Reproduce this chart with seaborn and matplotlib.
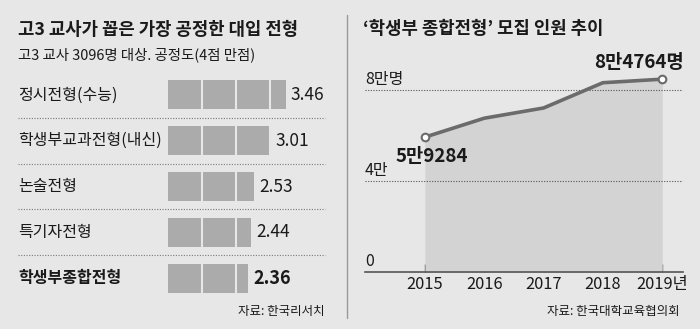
import numpy as np
import pandas as pd
import matplotlib
matplotlib.use("Agg")
import matplotlib.pyplot as plt
import matplotlib.transforms as mtransforms
from matplotlib.lines import Line2D
import seaborn as sns

# ---------------- data ----------------
left_title = "고3 교사가 꼽은 가장 공정한 대입 전형"
left_subtitle = "고3 교사 3096명 대상. 공정도(4점 만점)"
categories = ["정시전형(수능)", "학생부교과전형(내신)", "논술전형", "특기자전형", "학생부종합전형"]
scores = [3.46, 3.01, 2.53, 2.44, 2.36]
left_source = "자료: 한국리서치"

right_title = "‘학생부 종합전형’ 모집 인원 추이"
years = [2015, 2016, 2017, 2018, 2019]
year_labels = ["2015", "2016", "2017", "2018", "2019년"]
recruits = [59284, 67600, 72100, 83200, 84764]
ytick_values = [0, 40000, 80000]
ytick_labels = ["0", "4만", "8만명"]
end_labels = ["5만9284", "8만4764명"]
right_source = "자료: 한국대학교육협의회"

# ---------------- style ----------------
sns.set_theme(style="white")
FAM = ["Noto Sans CJK KR", "DejaVu Sans"]
plt.rcParams["font.family"] = FAM
BG = "#e7e7e7"
BAR = "#ababab"
FILL = "#d3d3d3"
LINE = "#6b6b6b"
TXT = "#1a1a1a"
plt.rcParams["text.color"] = TXT

W, H = 700, 329
fig = plt.figure(figsize=(7, 3.29), dpi=100, facecolor=BG)


def fx(px):
    return px / W


def fy(py):
    return 1 - py / H


# ---------------- left panel ----------------
UNIT = 34.0  # px per score point
top, bot = 72, 301
ax1 = fig.add_axes([fx(168), fy(bot), 5 * UNIT / W, (bot - top) / H])
ax1.patch.set_alpha(0)
df = pd.DataFrame({"category": categories, "score": scores})
sns.barplot(data=df, y="category", x="score", orient="h", color=BAR,
            saturation=1, width=0.634, linewidth=0, ax=ax1)
ax1.set_xlim(0, 5)
ax1.set_ylim(len(categories) - 0.5, -0.5)
ax1.axis("off")

# segment bars into 1-point blocks
for p in ax1.patches:
    w = p.get_width()
    y0, h = p.get_y(), p.get_height()
    for k in range(1, int(np.ceil(w))):
        ax1.plot([k, k], [y0, y0 + h], color=BG, lw=1.5, solid_capstyle="butt")

trans1 = mtransforms.blended_transform_factory(fig.transFigure, ax1.transData)
for i, (cat, v) in enumerate(zip(categories, scores)):
    bold = i == len(categories) - 1
    ax1.text(fx(18), i, cat, transform=trans1, ha="left", va="center",
             fontsize=11.5, weight="bold" if bold else "normal")
    ax1.text(v + 5 / UNIT, i, f"{v:.2f}", ha="left", va="center",
             fontsize=13 if bold else 12.5, weight="bold" if bold else "normal")

for k in range(len(categories) - 1):
    ax1.plot([fx(18), fx(325)], [k + 0.5, k + 0.5], transform=trans1,
             color="#7a7a7a", lw=0.8, ls=(0, (1, 1.4)), clip_on=False)

fig.text(fx(18), fy(30), left_title, ha="left", va="center",
         fontsize=12.8, weight="bold")
fig.text(fx(18), fy(55), left_subtitle, ha="left", va="center", fontsize=10.4)
fig.text(fx(325), fy(312), left_source, ha="right", va="center", fontsize=9)

# divider
fig.add_artist(Line2D([fx(347), fx(347)], [fy(15), fy(318)],
                      transform=fig.transFigure, color="#9a9a9a", lw=1))

# ---------------- right panel ----------------
ax2 = fig.add_axes([fx(365), fy(272), 318 / W, 209.3 / H])
ax2.patch.set_alpha(0)
ax2.fill_between(years, recruits, 0, color=FILL, lw=0, zorder=1)
for v in ytick_values[1:]:
    ax2.axhline(v, color="#555555", lw=0.8, ls=(0, (1, 1.4)), zorder=2)
sns.lineplot(x=years, y=recruits, color=LINE, lw=2.6, ax=ax2, zorder=3)
ax2.plot([years[0], years[-1]], [recruits[0], recruits[-1]], "o", mfc="white",
         mec=LINE, ms=5.5, mew=1.5, zorder=4)
ax2.set_xlim(2013.99, 2019.35)
ax2.set_ylim(0, 92000)
for s in ["left", "top", "right"]:
    ax2.spines[s].set_visible(False)
ax2.spines["bottom"].set_color("#555555")
ax2.spines["bottom"].set_linewidth(1.2)
ax2.set_yticks([])
ax2.set_xticks(years, year_labels)
ax2.tick_params(axis="x", direction="in", length=5.5, width=1, color="#555555",
                pad=3, labelsize=11.8, labelcolor=TXT, bottom=True)
ax2.set_xlabel("")
ax2.set_ylabel("")

for v, lab in zip(ytick_values, ytick_labels):
    ax2.annotate(lab, xy=(0, v), xycoords=("axes fraction", "data"),
                 xytext=(0, 2), textcoords="offset pixels", ha="left",
                 va="bottom", fontsize=11.5)

ax2.annotate(end_labels[0], xy=(years[0], recruits[0]), xytext=(7, -19),
             textcoords="offset pixels", ha="center", va="center",
             fontsize=13.5, weight="bold")
ax2.annotate(end_labels[1], xy=(years[-1], recruits[-1]), xytext=(-23, 17),
             textcoords="offset pixels", ha="center", va="center",
             fontsize=13.5, weight="bold")

fig.text(fx(363), fy(29), right_title, ha="left", va="center",
         fontsize=12.8, weight="bold")
fig.text(fx(680), fy(312), right_source, ha="right", va="center", fontsize=9)

fig.savefig("out.png", dpi=100, facecolor=BG)
